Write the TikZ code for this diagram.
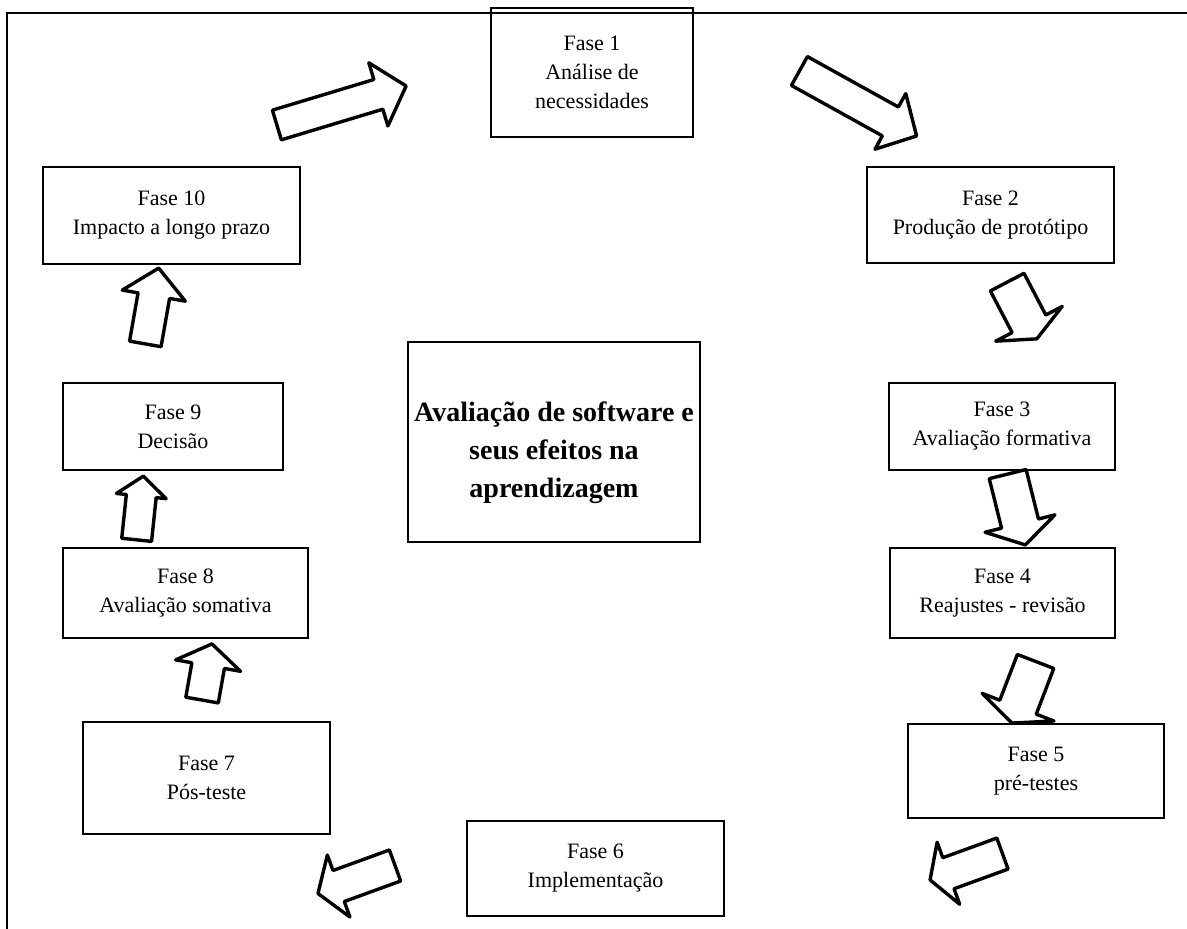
\documentclass[tikz,border=0pt]{standalone}
\usepackage{fontspec}
\setmainfont{Liberation Serif}
\begin{document}
\begin{tikzpicture}[x=0.5pt,y=-0.5pt,
  phase/.style={draw, line width=1.2pt, rectangle, align=center, inner sep=0pt,
                font=\fontsize{11}{14.5}\selectfont},
  corebox/.style={draw, line width=1.2pt, rectangle, inner sep=0pt},
  coretext/.style={align=center, inner sep=0pt, font=\fontsize{14}{19}\selectfont\bfseries},
  arrowline/.style={draw, line width=1.7pt, fill=white, line join=round},
  % hollow block arrow: length, shaft width, head width, head length (centred, pointing along +x)
  pics/blockarrow/.style n args={4}{code={
    \path[arrowline] ({-#1/2},{-#2/2}) -- ({#1/2-#4},{-#2/2}) -- ({#1/2-#4},{-#3/2})
      -- ({#1/2},0) -- ({#1/2-#4},{#3/2}) -- ({#1/2-#4},{#2/2}) -- ({-#1/2},{#2/2}) -- cycle;
  }},
]
\useasboundingbox (0,0) rectangle (1187,929);
% outer frame
\draw[line width=1.4pt] (7,929) -- (7,13) -- (1187,13);

% phases
\node[phase, minimum width=101pt,  minimum height=64.5pt] (f1)  at (592,72.5)   {Fase 1\\Análise de\\necessidades};
\node[phase, minimum width=123.5pt, minimum height=48pt]  (f2)  at (990.5,215)  {Fase 2\\Produção de protótipo};
\node[phase, minimum width=113pt,  minimum height=43.5pt] (f3)  at (1002,426.5) {Fase 3\\Avaliação formativa};
\node[phase, minimum width=112.5pt, minimum height=45pt]  (f4)  at (1002.5,593) {Fase 4\\Reajustes - revisão};
\node[phase, minimum width=128pt,  minimum height=47pt]   (f5)  at (1036,771)   {Fase 5\\pré-testes};
\node[phase, minimum width=128.5pt, minimum height=47.5pt] (f6) at (595.5,868.5) {Fase 6\\Implementação};
\node[phase, minimum width=123.5pt, minimum height=56pt]  (f7)  at (206.5,778)  {Fase 7\\Pós-teste};
\node[phase, minimum width=122.5pt, minimum height=45pt]  (f8)  at (185.5,593)  {Fase 8\\Avaliação somativa};
\node[phase, minimum width=110pt,  minimum height=43.5pt] (f9)  at (173,426.5)  {Fase 9\\Decisão};
\node[phase, minimum width=128.5pt, minimum height=48.5pt] (f10) at (171.5,215.5) {Fase 10\\Impacto a longo prazo};

% central theme: frame with its title set a little below the middle
\node[corebox, minimum width=146pt, minimum height=100pt] (core) at (554,442) {};
\node[coretext] (core title) at ([yshift=-5.5pt]core.center)
  {Avaliação de software e\\seus efeitos na\\aprendizagem};

% block arrows of the cycle
\pic[rotate=16.8]  (a1)  at (341.5,105.5)   {blockarrow={135}{31}{66}{29}};
\pic[rotate=-29]   (a2)  at (858,103.5)     {blockarrow={134}{33}{63.5}{30}};
\pic[rotate=-62.4] (a3)  at (1022,310.5)    {blockarrow={64}{38}{75}{17}};
\pic[rotate=-76]   (a4)  at (1016.5,509.5)  {blockarrow={73}{38}{72}{22}};
\pic[rotate=-111]  (a5)  at (1023.75,692.25) {blockarrow={66}{39}{77}{17}};
\pic[rotate=-160]  (a6)  at (966.25,866.75) {blockarrow={77}{33}{66}{19.5}};
\pic[rotate=-160]  (a7)  at (356.5,879.5)   {blockarrow={82}{33}{66}{22}};
\pic[rotate=80]    (a8)  at (207,672)       {blockarrow={57}{33}{66}{22}};
\pic[rotate=84]    (a9)  at (140,508)       {blockarrow={64}{30}{50}{20}};
\pic[rotate=80]    (a10) at (152,306)       {blockarrow={77}{32}{64}{28}};
\end{tikzpicture}
\end{document}
